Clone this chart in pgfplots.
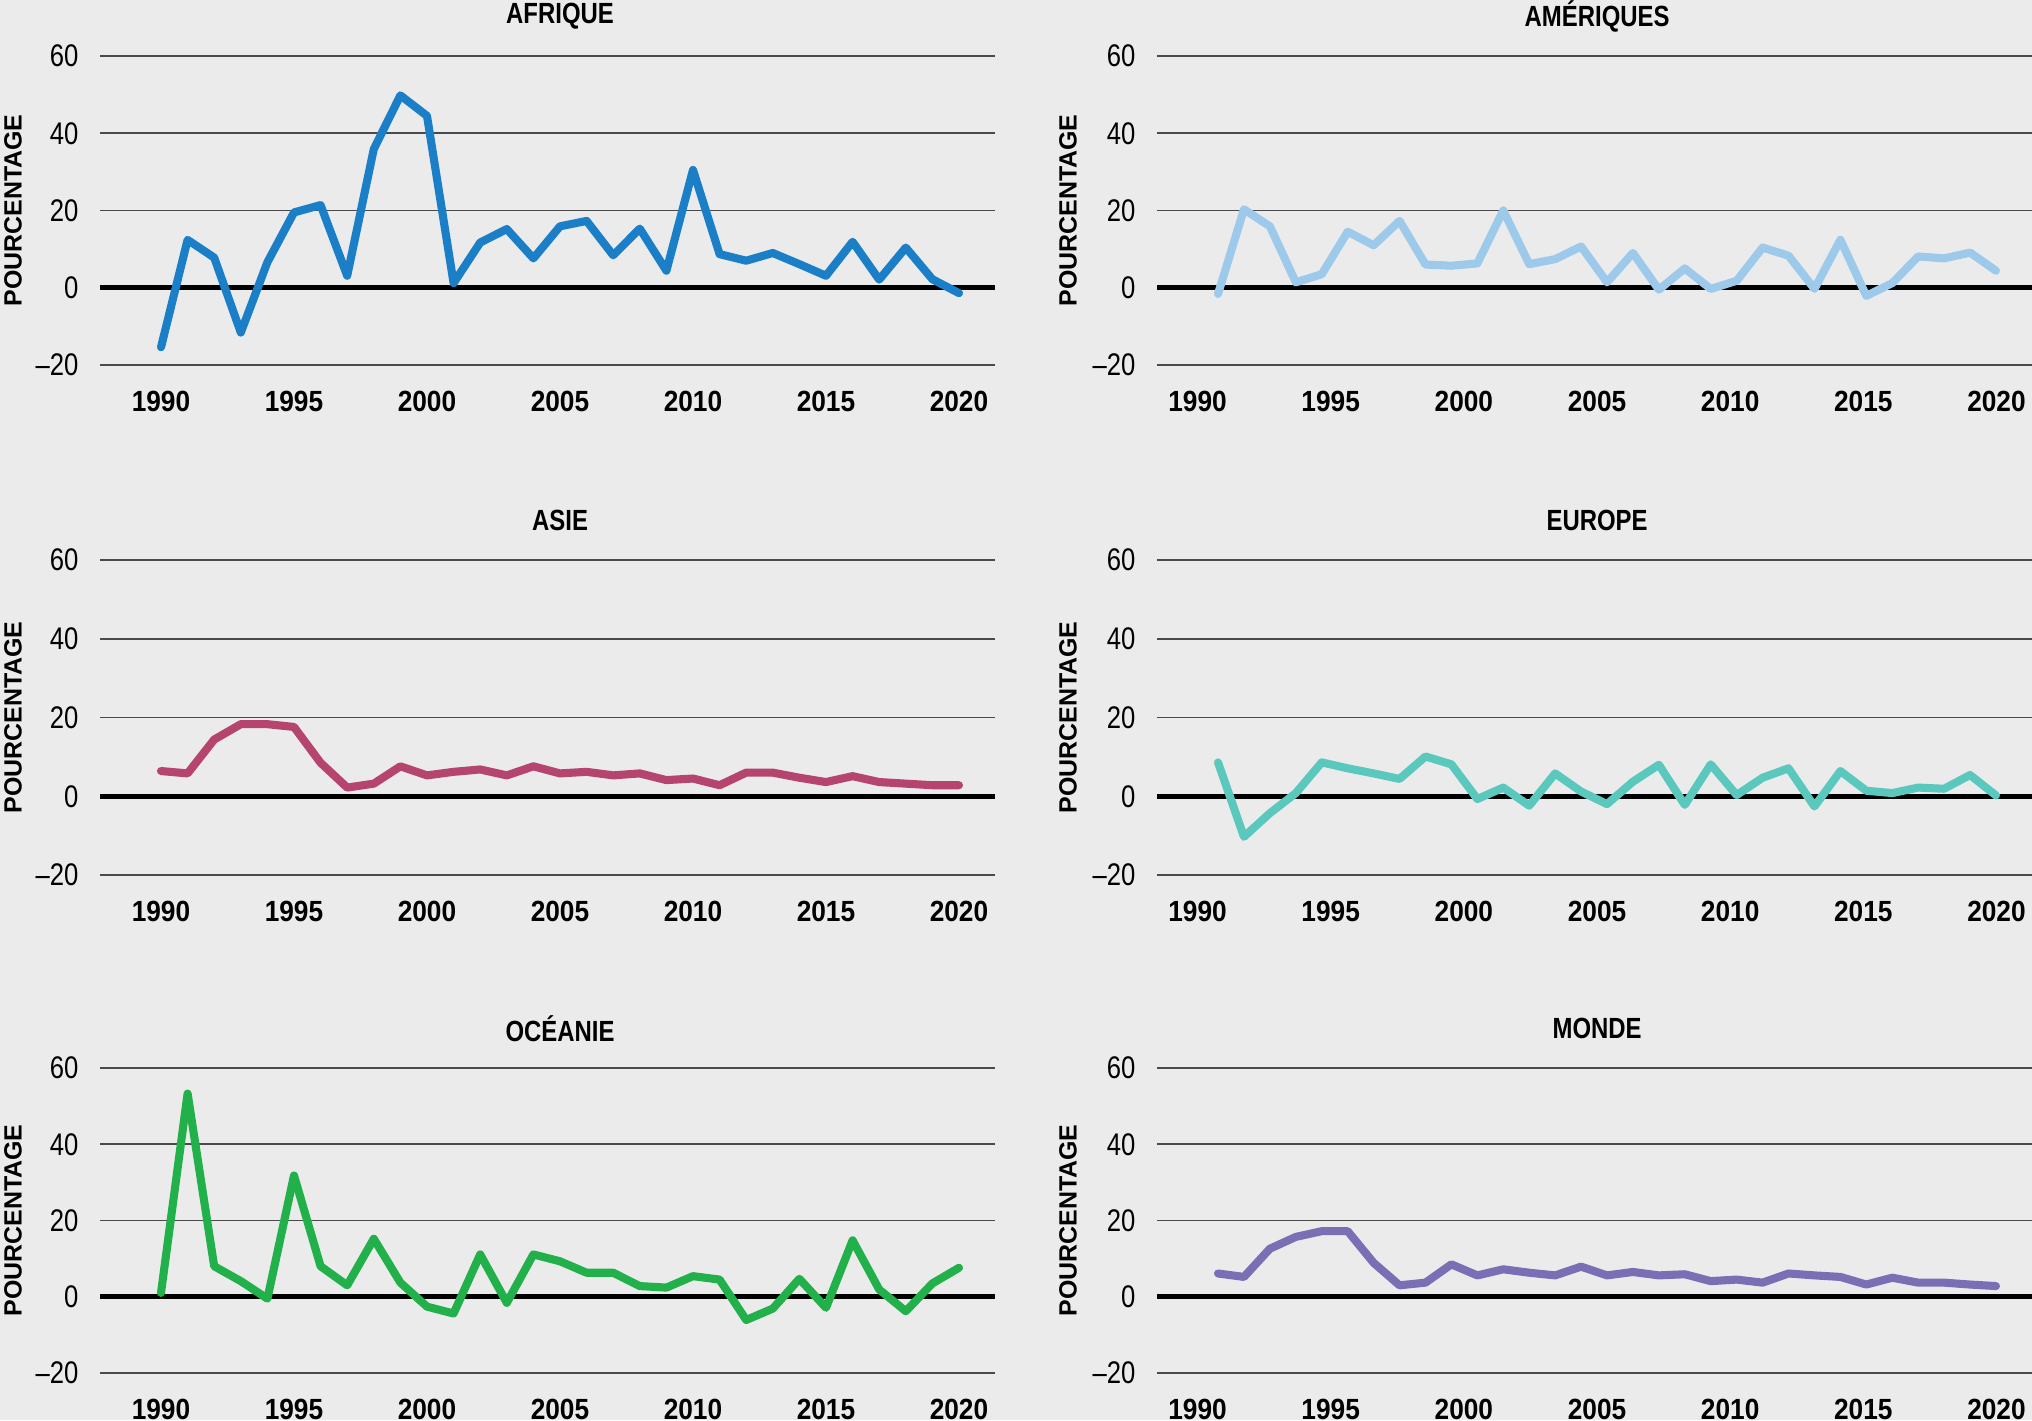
\documentclass[border=0pt]{standalone}
\usepackage{pgfplots}
\pgfplotsset{compat=1.18}
\usepackage{fontspec}
\setmainfont{Liberation Sans}[FakeStretch=0.82]
\newfontfamily\ylabfont{Liberation Sans}
\newfontfamily\xtickfont{Liberation Sans}[FakeStretch=0.9]
\definecolor{bg}{HTML}{EBEBEC}
\definecolor{gridc}{HTML}{4A4A4A}
\definecolor{cafr}{HTML}{1A7FC7}
\definecolor{came}{HTML}{9DC9EA}
\definecolor{casi}{HTML}{B5446E}
\definecolor{ceur}{HTML}{5BC8BE}
\definecolor{coce}{HTML}{22B04A}
\definecolor{cmon}{HTML}{7A6FB5}
\pgfplotsset{
  panel/.style={
    scale only axis, anchor=south west,
    ymin=-20, ymax=60, ytick={-20,0,20,40,60},
    yticklabels={\textendash20,0,20,40,60},
    ymajorgrids, grid style={draw=gridc, line width=0.45pt},
    extra y ticks={0}, extra y tick labels={},
    extra y tick style={grid style={draw=black, line width=1.5pt}},
    axis line style={draw=none}, major tick length=0pt,
    yticklabel style={anchor=east, inner sep=0pt, xshift=-2.1mm, font=\fontsize{8.9}{10}\selectfont},
    xticklabel style={anchor=center, inner sep=0pt, yshift=-3.6mm, font=\fontsize{8.3}{10}\selectfont\xtickfont\bfseries},
    title style={anchor=center, yshift=1.85mm, font=\fontsize{8.3}{10}\selectfont\bfseries, inner sep=0pt},
    ylabel={POURCENTAGE},
    ylabel style={anchor=center, font=\fontsize{7.1}{8}\selectfont\ylabfont\bfseries, inner sep=0pt},
    every axis plot/.append style={line width=2.3pt, line join=round, line cap=round, no markers},
  },
  leftp/.style={panel, width=89.5mm,
    xmin=1987.707, xmax=2021.354,
    xtick={1990,1995,2000,2005,2010,2015,2020},
    xticklabels={1990,1995,2000,2005,2010,2015,2020},
    title style={at={(axis description cs:0.514,1)}},
    ylabel style={at={(axis description cs:-0.0972,0.5)}},
  },
  rightp/.style={panel, width=87.5mm,
    xmin=1987.647, xmax=2021.39,
    xtick={1989.21,1994.345,1999.48,2004.615,2009.75,2014.885,2020.02},
    xticklabels={1990,1995,2000,2005,2010,2015,2020},
    title style={at={(axis description cs:0.503,1)}},
    ylabel style={at={(axis description cs:-0.1017,0.5)}},
  },
}
\begin{document}
\begin{tikzpicture}
\path[use as bounding box, fill=bg] (0,0) rectangle (203.2mm,142mm);

% AFRIQUE
\begin{axis}[leftp, at={(10mm,105.5mm)}, height=30.9mm, title={AFRIQUE}]
\addplot[cafr] coordinates {
(1990,-15.4)(1991,12.4)(1992,7.8)(1993,-11.6)(1994,6.6)(1995,19.5)(1996,21.4)(1997,3.1)(1998,35.9)(1999,49.8)
(2000,44.5)(2001,1.2)(2002,11.7)(2003,15.2)(2004,7.6)(2005,15.9)(2006,17.3)(2007,8.4)(2008,15.3)(2009,4.4)
(2010,30.5)(2011,8.7)(2012,7.0)(2013,9.0)(2014,6.1)(2015,3.1)(2016,11.9)(2017,2.1)(2018,10.4)(2019,2.2)(2020,-1.4)};
\end{axis}

% AMERIQUES
\begin{axis}[rightp, at={(115.7mm,105.5mm)}, height=30.9mm, title={AMÉRIQUES}]
\addplot[came] coordinates {
(1990,-1.6)(1991,20.3)(1992,15.9)(1993,1.4)(1994,3.5)(1995,14.5)(1996,11.0)(1997,17.3)(1998,6.0)(1999,5.7)
(2000,6.3)(2001,20.0)(2002,6.1)(2003,7.4)(2004,10.7)(2005,1.4)(2006,9.0)(2007,-0.5)(2008,5.0)(2009,-0.3)
(2010,1.8)(2011,10.4)(2012,8.3)(2013,-0.3)(2014,12.4)(2015,-2.1)(2016,1.2)(2017,8.1)(2018,7.6)(2019,9.1)(2020,4.4)};
\end{axis}

% ASIE
\begin{axis}[leftp, at={(10mm,54.5mm)}, height=31.5mm, title={ASIE}]
\addplot[casi] coordinates {
(1990,6.4)(1991,5.8)(1992,14.4)(1993,18.3)(1994,18.3)(1995,17.6)(1996,8.5)(1997,2.2)(1998,3.2)(1999,7.6)
(2000,5.3)(2001,6.2)(2002,6.8)(2003,5.3)(2004,7.6)(2005,5.8)(2006,6.2)(2007,5.3)(2008,5.8)(2009,4.1)
(2010,4.5)(2011,2.8)(2012,6.0)(2013,6.0)(2014,4.7)(2015,3.6)(2016,5.1)(2017,3.6)(2018,3.2)(2019,2.8)(2020,2.8)};
\end{axis}

% EUROPE
\begin{axis}[rightp, at={(115.7mm,54.5mm)}, height=31.5mm, title={EUROPE}]
\addplot[ceur] coordinates {
(1990,8.6)(1991,-10.3)(1992,-4.3)(1993,0.8)(1994,8.6)(1995,7.1)(1996,5.8)(1997,4.4)(1998,10.1)(1999,8.1)
(2000,-0.7)(2001,2.2)(2002,-2.4)(2003,5.8)(2004,1.2)(2005,-2.0)(2006,3.7)(2007,8.0)(2008,-2.2)(2009,8.1)
(2010,0.3)(2011,4.7)(2012,7.1)(2013,-2.6)(2014,6.4)(2015,1.4)(2016,0.8)(2017,2.2)(2018,1.9)(2019,5.4)(2020,0.2)};
\end{axis}

% OCEANIE
\begin{axis}[leftp, at={(10mm,4.7mm)}, height=30.5mm, title={OCÉANIE}]
\addplot[coce] coordinates {
(1990,1.0)(1991,53.3)(1992,8.0)(1993,4.1)(1994,-0.5)(1995,31.8)(1996,8.0)(1997,3.0)(1998,15.2)(1999,3.7)
(2000,-2.6)(2001,-4.4)(2002,11.1)(2003,-1.6)(2004,11.1)(2005,9.3)(2006,6.3)(2007,6.3)(2008,2.8)(2009,2.4)
(2010,5.4)(2011,4.5)(2012,-6.1)(2013,-3.1)(2014,4.7)(2015,-2.9)(2016,14.8)(2017,1.9)(2018,-3.8)(2019,3.5)(2020,7.6)};
\end{axis}

% MONDE
\begin{axis}[rightp, at={(115.7mm,4.7mm)}, height=30.5mm, title={MONDE}]
\addplot[cmon] coordinates {
(1990,6.1)(1991,5.2)(1992,12.6)(1993,15.7)(1994,17.2)(1995,17.2)(1996,8.9)(1997,3.0)(1998,3.7)(1999,8.5)
(2000,5.6)(2001,7.2)(2002,6.3)(2003,5.6)(2004,7.9)(2005,5.6)(2006,6.5)(2007,5.6)(2008,5.9)(2009,4.1)
(2010,4.5)(2011,3.7)(2012,6.1)(2013,5.6)(2014,5.2)(2015,3.2)(2016,5.0)(2017,3.7)(2018,3.7)(2019,3.2)(2020,2.8)};
\end{axis}
\end{tikzpicture}
\end{document}
